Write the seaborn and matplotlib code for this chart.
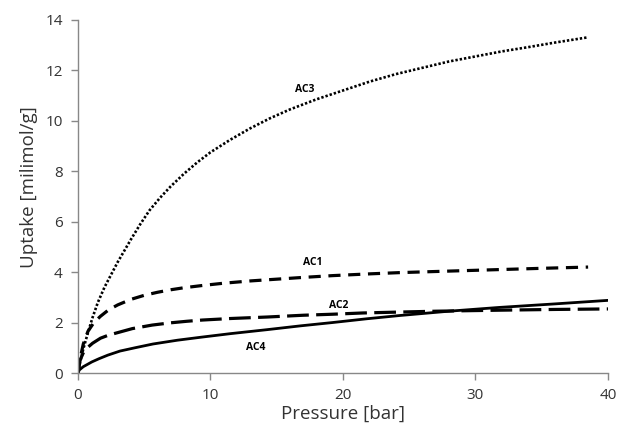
import matplotlib
matplotlib.use("Agg")
import matplotlib.pyplot as plt
import seaborn as sns
import pandas as pd

# Data
ac3_p = [0, 0.15, 0.4, 0.75, 1.1, 1.5, 2.0, 2.5, 3.0, 3.5, 4.0, 4.7, 5.4, 6.2, 7.0, 8.0, 9.0, 10.0,
         11.5, 13.0, 14.5, 16.0, 18.0, 20.0, 22.0, 24.0, 26.0, 28.0, 30.0, 32.0, 34.0, 36.0, 38.4]
ac3_u = [0, 0.4, 0.95, 1.6, 2.2, 2.8, 3.4, 3.9, 4.4, 4.85, 5.3, 5.9, 6.45, 6.95, 7.4, 7.9, 8.35, 8.75,
         9.25, 9.7, 10.1, 10.45, 10.85, 11.2, 11.55, 11.85, 12.1, 12.35, 12.55, 12.75, 12.92, 13.1, 13.3]

ac1_p = [0, 0.15, 0.4, 0.75, 1.2, 1.7, 2.3, 3.0, 4.0, 5.0, 6.0, 7.0, 8.0, 9.4, 11.0, 13.0, 15.0,
         17.0, 19.2, 22.0, 24.3, 28.0, 31.8, 35.0, 38.5]
ac1_u = [0, 0.55, 1.15, 1.65, 2.0, 2.25, 2.5, 2.7, 2.92, 3.08, 3.2, 3.3, 3.38, 3.47, 3.56, 3.65, 3.72,
         3.79, 3.86, 3.93, 3.98, 4.04, 4.1, 4.15, 4.2]

ac2_p = [0, 0.15, 0.4, 0.7, 1.1, 1.7, 2.3, 3.2, 4.1, 5.6, 7.0, 8.2, 9.4, 11.5, 14.3, 17.0, 19.2,
         21.5, 23.8, 27.0, 31.8, 36.0, 40.0]
ac2_u = [0, 0.5, 0.8, 1.0, 1.18, 1.38, 1.5, 1.63, 1.76, 1.9, 1.99, 2.05, 2.1, 2.16, 2.22, 2.29, 2.33,
         2.38, 2.41, 2.45, 2.49, 2.52, 2.54]

ac4_p = [0, 0.1, 0.4, 1.05, 1.6, 2.26, 3.17, 4.3, 5.66, 7.5, 9.3, 11.5, 14.3, 16.8, 19.2, 21.8,
         24.3, 28.0, 31.8, 36.0, 40.0]
ac4_u = [0, 0.12, 0.25, 0.44, 0.57, 0.71, 0.87, 1.0, 1.15, 1.3, 1.42, 1.56, 1.72, 1.87, 2.0, 2.15,
         2.28, 2.45, 2.6, 2.74, 2.88]

labels = ["AC3", "AC1", "AC2", "AC4"]
label_pos = [(17.1, 11.25), (17.7, 4.37), (19.7, 2.66), (13.4, 1.03)]

sns.set_theme(style="white")
plt.rcParams["font.family"] = ["Open Sans", "DejaVu Sans"]

fig = plt.figure(figsize=(6.17, 4.26), dpi=100)
ax = fig.add_axes([0.1264, 0.1244, 0.859, 0.829])

series = [
    (ac3_p, ac3_u, (0, (0.9, 0.75)), 1.9),
    (ac1_p, ac1_u, (0, (3.8, 2.4)), 2.3),
    (ac2_p, ac2_u, (0, (6.8, 2.3)), 2.3),
    (ac4_p, ac4_u, "-", 2.0),
]
for (p, u, ls, lw) in series:
    df = pd.DataFrame({"p": p, "u": u})
    sns.lineplot(data=df, x="p", y="u", ax=ax, color="black",
                 linestyle=ls, linewidth=lw, sort=False, estimator=None)

for lab, (x, y) in zip(labels, label_pos):
    ax.text(x, y, lab, fontsize=7.5, fontweight="bold", ha="center", va="center", color="black")

ax.set_xlim(0, 40)
ax.set_ylim(0, 14)
ax.set_xticks([0, 10, 20, 30, 40])
ax.set_yticks(range(0, 15, 2))
ax.set_xlabel("Pressure [bar]", fontsize=13.5, color="#333333", labelpad=1)
ax.set_ylabel("Uptake [milimol/g]", fontsize=13.5, color="#333333", labelpad=5)
ax.yaxis.label.set_y(0.525)
ax.tick_params(axis="both", labelsize=11, length=5, width=1,
               direction="out", bottom=True, left=True, pad=6,
               colors="#888888", labelcolor="#333333")
for s in ["top", "right"]:
    ax.spines[s].set_visible(False)
for s in ["left", "bottom"]:
    ax.spines[s].set_color("#888888")
    ax.spines[s].set_linewidth(1)

fig.savefig("out.png", dpi=100)
